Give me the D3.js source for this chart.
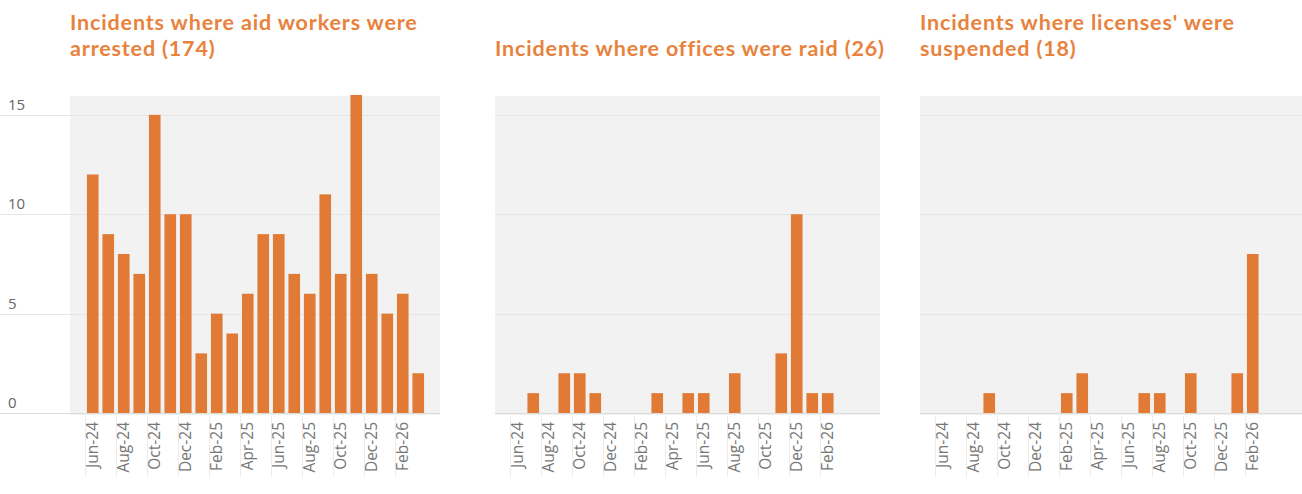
<!DOCTYPE html>
<html>
<head>
<meta charset="utf-8">
<script src="https://cdn.jsdelivr.net/npm/d3@7"></script>
<style>
  html, body { margin: 0; padding: 0; background: #ffffff; }
  svg { display: block; }
</style>
</head>
<body>
<svg id="chart" width="1302" height="494"></svg>
<script>
// ---------------- data ----------------
const months = ["Jun-24","Jul-24","Aug-24","Sep-24","Oct-24","Nov-24","Dec-24",
  "Jan-25","Feb-25","Mar-25","Apr-25","May-25","Jun-25","Jul-25","Aug-25","Sep-25",
  "Oct-25","Nov-25","Dec-25","Jan-26","Feb-26","Mar-26"];
const tickLabels = ["Jun-24","Aug-24","Oct-24","Dec-24","Feb-25","Apr-25","Jun-25",
  "Aug-25","Oct-25","Dec-25","Feb-26"];
const yTicks = [0, 5, 10, 15];

const arrested  = [12,9,8,7,15,10,10,3,5,4,6,9,9,7,6,11,7,16,7,5,6,2];
const raided    = [0,1,0,2,2,1,0,0,0,1,0,1,1,0,2,0,0,3,10,1,1,0];
const suspended = [0,0,0,1,0,0,0,0,1,2,0,0,0,1,1,0,2,0,0,2,8,0];

const titles = [
  ["Incidents where aid workers were", "arrested (174)"],
  ["Incidents where offices were raid (26)"],
  ["Incidents where licenses' were", "suspended (18)"]
];
const seriesList = [arrested, raided, suspended];

// ---------------- layout ----------------
const W = 1302, H = 494;
const BAR = "#e07a35", TITLE = "#e8823c";
const panelLeft = [85, 510, 935];     // start of band range per panel
const bandWidthTotal = 341;
const bgPadL = 15;
const bgPadR = [14, 29, 30];
const yTop = 95, yBase = 413;

const svg = d3.select("#chart");
const y = d3.scaleLinear().domain([0, 16]).range([yBase, yTop]);

seriesList.forEach((vals, i) => {
  const x0 = panelLeft[i];
  const x = d3.scaleBand().domain(months).range([x0, x0 + bandWidthTotal]).paddingInner(0.25).paddingOuter(0.125);
  const g = svg.append("g");
  const bgL = x0 - bgPadL;
  const bgR = Math.min(W, x0 + bandWidthTotal + bgPadR[i]);

  // background
  g.append("rect").attr("x", bgL).attr("y", yTop + 1).attr("width", bgR - bgL)
    .attr("height", yBase - yTop + 1).attr("fill", "#f2f2f2");

  // gridlines
  const gl = i === 0 ? 0 : bgL;
  g.selectAll("line.grid").data(yTicks).join("line")
    .attr("x1", gl).attr("x2", bgR)
    .attr("y1", d => Math.round(y(d)) + 0.5).attr("y2", d => Math.round(y(d)) + 0.5)
    .attr("stroke", d => d === 0 ? "#dcdcdc" : "#e6e6e6").attr("stroke-width", 1);

  // y labels (first panel only)
  if (i === 0) {
    g.selectAll("text.ylab").data(yTicks).join("text")
      .attr("x", 8).attr("y", d => y(d) - 5)
      .attr("font-family", "Open Sans, sans-serif").attr("font-size", 15)
      .attr("fill", "#666").text(d => d);
  }

  // faint separators at labelled band edges
  g.selectAll("line.sep").data(tickLabels).join("line")
    .attr("x1", d => Math.round(x(d) - x.step() * x.paddingInner() / 2) + 0.5)
    .attr("x2", d => Math.round(x(d) - x.step() * x.paddingInner() / 2) + 0.5)
    .attr("y1", yBase + 3).attr("y2", yBase + 64)
    .attr("stroke", "#ececec").attr("stroke-width", 1);

  // bars
  g.selectAll("rect.bar").data(months).join("rect")
    .attr("x", d => x(d)).attr("width", x.bandwidth())
    .attr("y", (d, k) => y(vals[k]))
    .attr("height", (d, k) => yBase - y(vals[k]))
    .attr("fill", BAR);

  // x axis
  const ax = g.append("g").attr("transform", `translate(0,${yBase})`)
    .call(d3.axisBottom(x).tickValues(tickLabels).tickSize(0).tickPadding(0));
  ax.select(".domain").remove();
  ax.selectAll("text")
    .attr("font-family", "Open Sans, sans-serif").attr("font-size", 15.5)
    .attr("fill", "#777")
    .attr("transform", "rotate(-90)")
    .attr("text-anchor", "end")
    .attr("x", -9).attr("y", 0).attr("dy", "0.35em");

  // title (each line as its own text element)
  const n = titles[i].length;
  g.selectAll("text.title").data(titles[i]).join("text")
    .attr("class", "title")
    .attr("x", bgL)
    .attr("y", (d, k) => n === 1 ? 56 : 29.5 + k * 26)
    .attr("font-family", "Lato, sans-serif").attr("font-weight", 700)
    .attr("font-size", 21.5).attr("letter-spacing", 0.85)
    .attr("fill", TITLE).text(d => d);
});
</script>
</body>
</html>
